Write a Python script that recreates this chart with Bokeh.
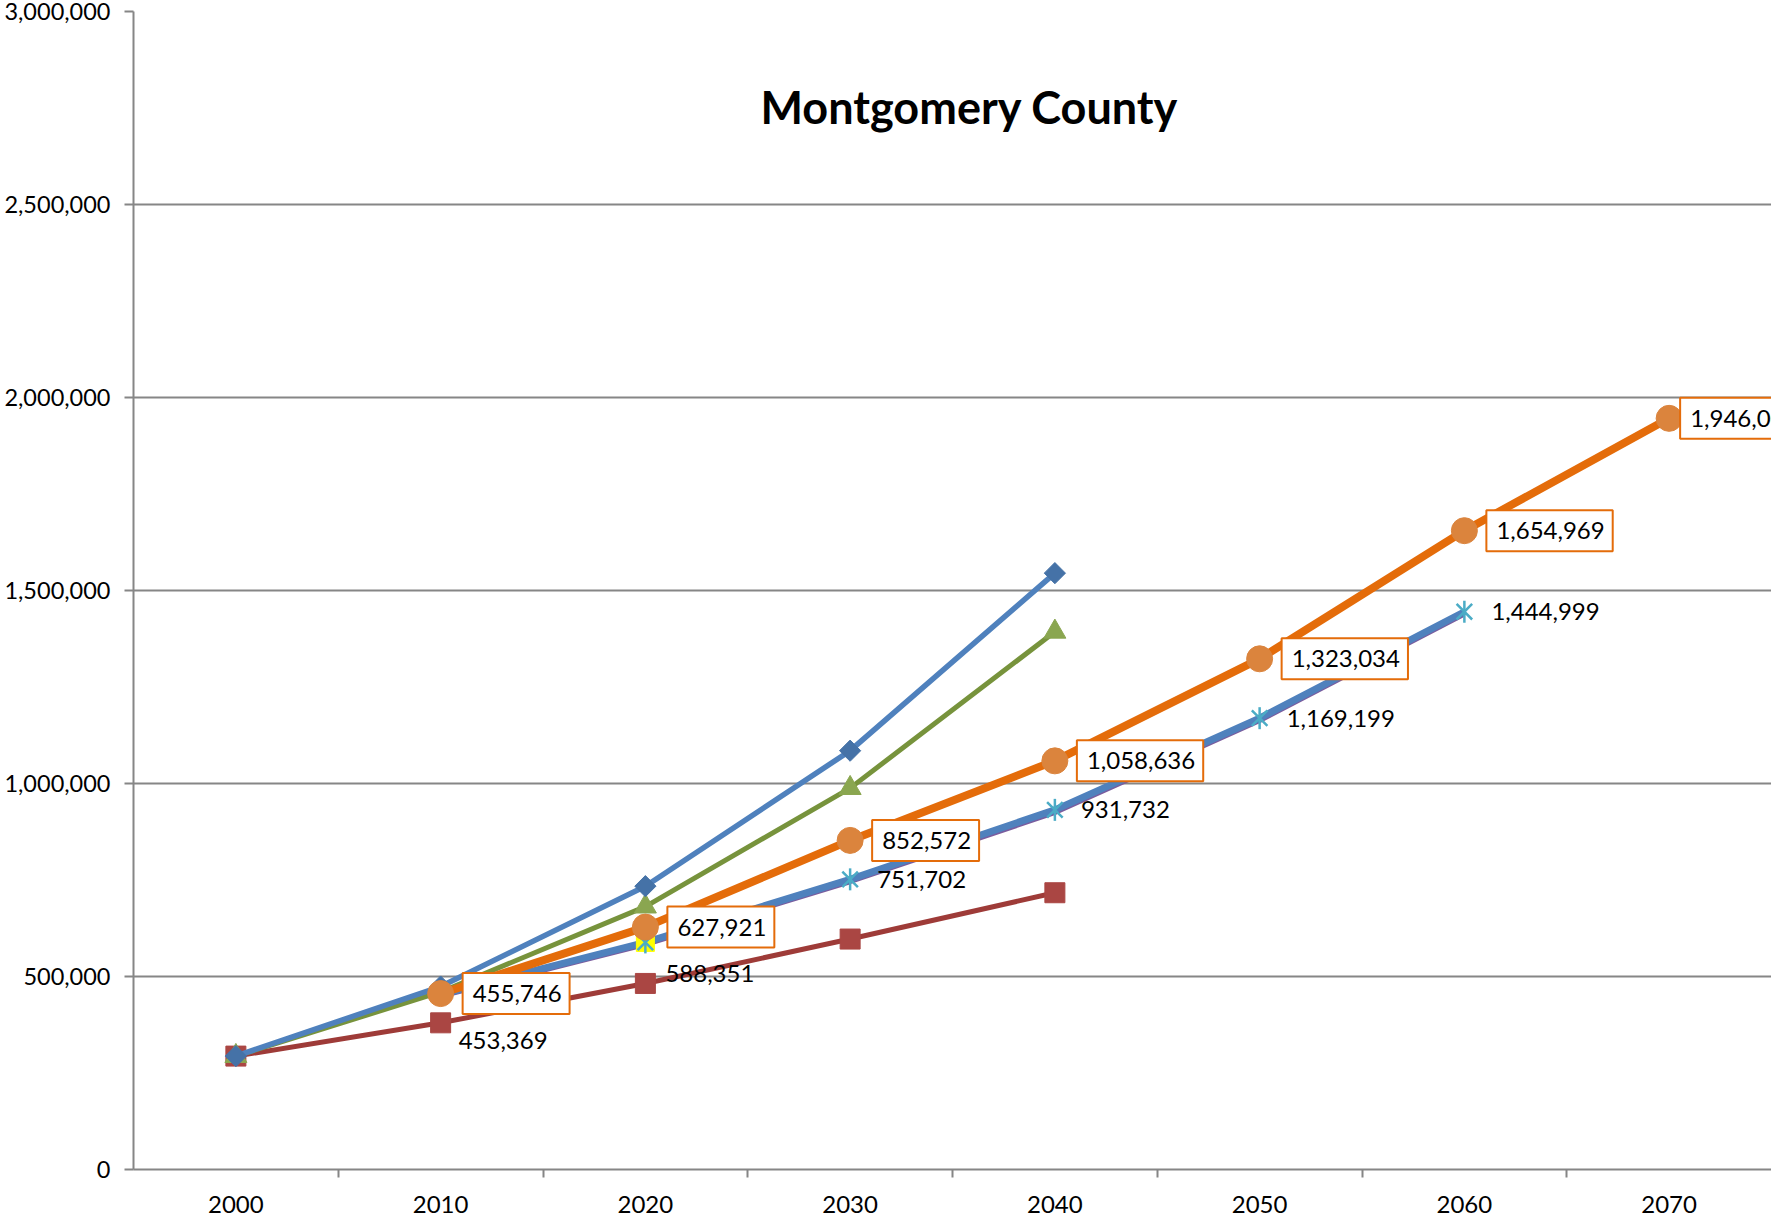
from bokeh.plotting import figure
from bokeh.models import ColumnDataSource, FixedTicker, NumeralTickFormatter, Label, Range1d
from bokeh.core.properties import value
from bokeh.embed import file_html
from bokeh.resources import INLINE
import numpy as np

# ---------------- data ----------------
title_text = "Montgomery County"
tick_years = [2000, 2010, 2020, 2030, 2040, 2050, 2060, 2070]
tick_labels = ["2000", "2010", "2020", "2030", "2040", "2050", "2060", "2070"]

scen_years = [2000, 2010, 2020, 2030, 2040]
high_vals = [293768, 474000, 734000, 1085000, 1545000]      # blue diamonds
mid_vals = [293768, 460000, 681000, 988000, 1393000]        # green triangles
low_vals = [293768, 380000, 482000, 597000, 717000]         # red squares

orange_years = [2010, 2020, 2030, 2040, 2050, 2060, 2070]
orange_vals = [455746, 627921, 852572, 1058636, 1323034, 1654969, 1946000]

star_years = [2010, 2020, 2030, 2040, 2050, 2060]
star_vals = [453369, 588351, 751702, 931732, 1169199, 1444999]
purple_vals = [446000, 580000, 743000, 922000, 1160000, 1436000]

highlight_years = [2020]
highlight_vals = [588351]

# label placement (style)
star_label_dx = [18, 20, 27, 26, 27, 27]
star_label_dy = [46, 31, 0, 0, 0, 0]
orange_label_dx = [22, 22, 22, 22, 22, 22, 11]

FONT = "Lato"
GRAY = "#868686"

p = figure(width=1771, height=1220, output_backend="svg", toolbar_location=None,
           x_range=Range1d(1995, 2075), y_range=Range1d(0, 3000000),
           min_border_left=133, min_border_right=0, min_border_top=11, min_border_bottom=51)
p.outline_line_color = None
p.background_fill_color = "white"

# grid
p.xgrid.grid_line_color = None
p.ygrid.grid_line_color = GRAY
p.ygrid.grid_line_width = 2
p.ygrid.ticker = FixedTicker(ticks=[0, 500000, 1000000, 1500000, 2000000, 2500000, 3000000])

# x axis
xa = p.xaxis[0]
xa.ticker = FixedTicker(ticks=tick_years, minor_ticks=[2005, 2015, 2025, 2035, 2045, 2055, 2065])
xa.major_label_overrides = {y: l for y, l in zip(tick_years, tick_labels)}
xa.axis_line_color = GRAY
xa.axis_line_width = 2
xa.major_tick_line_color = None
xa.major_tick_out = 0
xa.major_tick_in = 0
xa.minor_tick_line_color = GRAY
xa.minor_tick_line_width = 2
xa.minor_tick_out = 8
xa.minor_tick_in = 0
xa.major_label_standoff = 18
xa.major_label_text_font = FONT
xa.major_label_text_font_size = "24px"
xa.major_label_text_color = "black"

# y axis
ya = p.yaxis[0]
ya.ticker = FixedTicker(ticks=[0, 500000, 1000000, 1500000, 2000000, 2500000, 3000000])
ya.formatter = NumeralTickFormatter(format="0,0")
ya.axis_line_color = GRAY
ya.axis_line_width = 2
ya.major_tick_line_color = GRAY
ya.major_tick_line_width = 2
ya.major_tick_out = 9
ya.major_tick_in = 0
ya.minor_tick_line_color = None
ya.major_label_standoff = 14
ya.major_label_text_font = FONT
ya.major_label_text_font_size = "23.5px"
ya.major_label_text_color = "black"

# ---------------- series ----------------
# red squares
p.line(scen_years, low_vals, line_color="#9E3B38", line_width=5)
p.scatter(scen_years, low_vals, marker="square", size=20, fill_color="#AA4643", line_color="#AA4643")

# green triangles
p.line(scen_years, mid_vals, line_color="#77933C", line_width=5)
p.scatter(scen_years, mid_vals, marker="triangle", size=22, fill_color="#8AA650", line_color="#8AA650")

# blue diamonds
p.line(scen_years, high_vals, line_color="#4F81BD", line_width=5.5)
p.scatter(scen_years, high_vals, marker="square", angle=np.pi / 4, size=15,
          fill_color="#4572A7", line_color="#4572A7")

# purple / blue star series
p.line(star_years, purple_vals, line_color="#7A5C9E", line_width=3)
p.line(star_years, star_vals, line_color="#4F81BD", line_width=7)
p.scatter(highlight_years, highlight_vals, marker="square", size=18, fill_color="#FFFF00", line_color="#FFFF00")
p.scatter(star_years, star_vals, marker="x", size=22, line_color="#4BACC6", line_width=2.5)
p.scatter(star_years, star_vals, marker="dash", angle=np.pi / 2, size=22, line_color="#4BACC6", line_width=2.5)

star_src = ColumnDataSource(dict(x=star_years, y=star_vals,
                                 t=["{:,}".format(v) for v in star_vals],
                                 dx=star_label_dx, dy=star_label_dy))
p.text(x="x", y="y", text="t", source=star_src, x_offset="dx", y_offset="dy",
       text_align="left", text_baseline="middle", text_font=value(FONT),
       text_font_size="24px", text_color="black")

# orange circles
p.line(orange_years, orange_vals, line_color="#E46C0A", line_width=8)
p.scatter(orange_years, orange_vals, marker="circle", size=26, fill_color="#DB843D", line_color="#DB843D")

orange_src = ColumnDataSource(dict(x=orange_years, y=orange_vals,
                                   t=["{:,}".format(v) for v in orange_vals],
                                   dx=orange_label_dx))
p.text(x="x", y="y", text="t", source=orange_src, x_offset="dx", y_offset=0,
       text_align="left", text_baseline="middle", text_font=value(FONT),
       text_font_size="24px", text_color="black",
       background_fill_color="white", border_line_color="#E46C0A", border_line_width=2,
       padding=dict(left=10, right=8, top=12, bottom=12))

# title
p.add_layout(Label(x=836, y=1063, x_units="screen", y_units="screen", text=title_text,
                   text_align="center", text_baseline="middle", text_font=FONT,
                   text_font_style="bold", text_font_size="45px", text_color="black"))

open("out.html", "w").write(file_html(p, INLINE))
